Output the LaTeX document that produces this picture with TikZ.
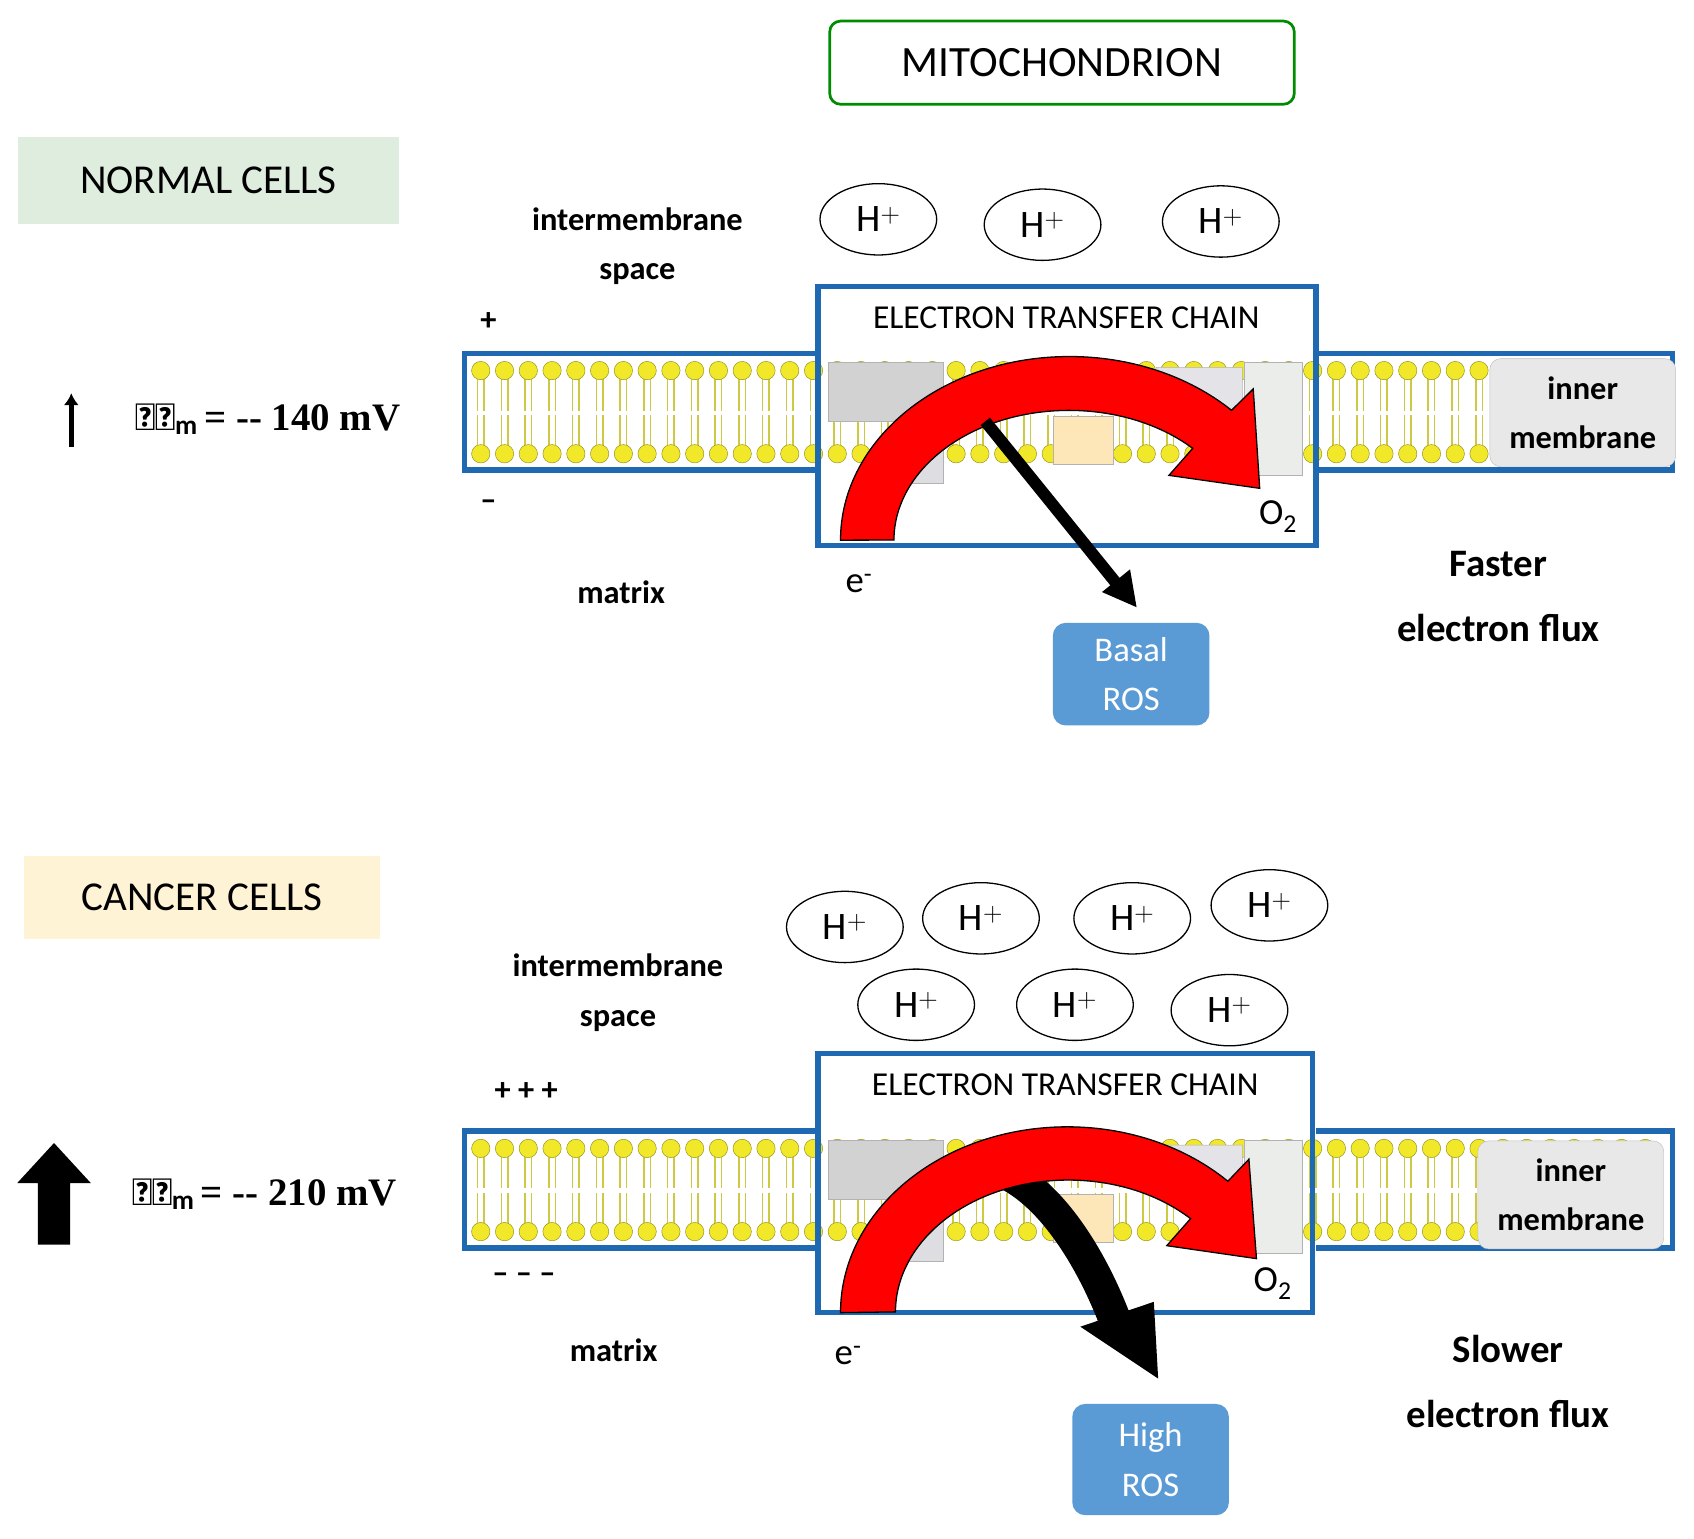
\documentclass[tikz,border=0pt]{standalone}
\usepackage{fontspec}
\usetikzlibrary{shapes.geometric,arrows.meta}
\setmainfont{Carlito}
\newfontfamily\tms{Liberation Serif}
\begin{document}
\begin{tikzpicture}[x=1pt,y=-1pt,
 fs/.style={font=\fontsize{#1}{#1}\selectfont},
 lab/.style={font=\fontsize{30}{46}\selectfont\bfseries,align=center},
 hp/.style={draw,ellipse,minimum width=108,minimum height=66,inner sep=0,fs=36,line width=1.2},
 ros/.style={fill=rosblue,rounded corners=12,text=white,align=center,minimum width=145,minimum height=95,font=\fontsize{32}{46}\selectfont},
 inm/.style={fill=gray!18,draw=gray!50,rounded corners=10,align=center,minimum width=172,minimum height=100,font=\fontsize{30}{46}\selectfont\bfseries},
 mb/.style={draw=mblue,line width=5},
]
\definecolor{mblue}{RGB}{31,105,178}
\definecolor{rosblue}{RGB}{91,155,213}
\definecolor{lipid}{RGB}{240,232,40}
\useasboundingbox (0,0) rectangle (1568,1424);
\fill[white] (0,0) rectangle (1568,1424);
\newcommand\mempanel[1]{%
\begin{scope}[yshift=-#1]
 \fill[white] (430,327) rectangle (1548,435);
 \foreach \x in {445,467,...,1540}{
   \draw[lipid!70!gray,line width=1.4] (\x-3,350)--(\x-3,380) (\x+3,350)--(\x+3,380)
     (\x-3,384)--(\x-3,413) (\x+3,384)--(\x+3,413);
   \fill[lipid,draw=lipid!60!black,line width=0.4] (\x,343) circle (8.5) (\x,420) circle (8.5);
 }
 \draw[mb] (757,327)--(430,327)--(430,435)--(757,435);
 \draw[mb] (1218,327)--(1548,327)--(1548,435)--(1218,435);
 \fill[white] (757,265) rectangle (1218,333);
 \fill[white] (757,440) rectangle (1218,505);
 \fill[gray!35,draw=gray!60] (767,335) rectangle (873,390);
 \fill[blue!8!gray!25,draw=gray!60] (830,390) rectangle (873,447);
 \fill[yellow!30!orange!25,draw=gray!60] (975,385) rectangle (1030,430);
 \fill[blue!10!gray!20,draw=gray!60] (1070,340) -- (1150,340) -- (1150,380) -- (1100,380) -- cycle;
 \fill[green!8!gray!15,draw=gray!60] (1152,335) rectangle (1205,440);
\end{scope}}
% ---- top
\node[draw=green!55!black,line width=2.5,rounded corners=10,minimum width=430,minimum height=77,fs=40] (mito) at (983,58) {MITOCHONDRION};
\node[fill=green!30!gray!20,minimum width=352,minimum height=80,fs=38] (nc) at (193,167) {NORMAL CELLS};
\node[fill=yellow!45!orange!15,minimum width=330,minimum height=77,fs=38] (cc) at (187,831) {CANCER CELLS};
% normal panel
\mempanel{0}
\node[hp] (h1) at (813,203) {H$^+$};
\node[hp] (h2) at (965,208) {H$^+$};
\node[hp] (h3) at (1130,205) {H$^+$};
\node[lab] (ims1) at (590,228) {intermembrane\\space};
\node[lab] (pl1) at (452,298) {+};
\node[lab] (mi1) at (452,468) {--};
\node[lab] (mx1) at (575,548) {matrix};
\node[draw=mblue,line width=5,minimum width=461,minimum height=240,inner sep=0] (etc1) at (987.5,385) {};
\node[fs=31,anchor=north] (etct1) at (987,280) {ELECTRON TRANSFER CHAIN};
\node[inm] (inm1) at (1465,382) {inner\\membrane};
\fill[red,draw=black,line width=1.2] (778,500) arc[start angle=180,end angle=315,x radius=212,y radius=170]
  -- (1160,360) -- (1166,452) -- (1082,440) -- (1104,415)
  arc[start angle=315,end angle=180,x radius=162,y radius=120] -- cycle;
\node[ros] (ros1) at (1047,624) {Basal\\ROS};
\coordinate (b1) at (912,390);
\draw[line width=11] (b1) -- (1035,542);
\fill (1020,548) -- (1052,562) -- (1046,527) -- cycle;
\node[fs=34] (e1) at (795,540) {e\textsuperscript{-}};
\node[fs=34] (o1) at (1183,478) {O\textsubscript{2}};
\node[font=\fontsize{36}{60}\selectfont\bfseries,align=center] (f1) at (1387,552) {Faster\\electron flux};
\node[font=\fontsize{36}{36}\selectfont\tms\bfseries] (dp1) at (248,388) {$\mathbf{\Delta\Psi_m}$\,= -- 140 mV};
\draw[line width=5,-{Latex[length=11,width=14]}] (66,414) -- (66,364);
% cancer panel
\mempanel{720}
\node[hp] (c1) at (782,858) {H$^+$};
\node[hp] (c2) at (908,850) {H$^+$};
\node[hp] (c3) at (1048,850) {H$^+$};
\node[hp] (c4) at (1175,838) {H$^+$};
\node[hp] (c5) at (848,930) {H$^+$};
\node[hp] (c6) at (995,930) {H$^+$};
\node[hp] (c7) at (1138,935) {H$^+$};
\node[lab] (ims2) at (572,919) {intermembrane\\space};
\node[lab] (pl2) at (487,1010) {+ + +};
\node[lab] (mi2) at (485,1183) {-- -- --};
\node[lab] (mx2) at (568,1250) {matrix};
\node[draw=mblue,line width=5,minimum width=458,minimum height=240,inner sep=0] (etc2) at (986,1095) {};
\node[fs=31,anchor=north] (etct2) at (986,990) {ELECTRON TRANSFER CHAIN};
\node[inm] (inm2) at (1454,1106) {inner\\membrane};
\coordinate (b2) at (900,1078);
\draw[line width=30] (b2) .. controls (960,1080) and (1010,1160) .. (1035,1230);
\fill (1000,1228) -- (1072,1276) -- (1068,1205) -- cycle;
\fill[red,draw=black,line width=1.2] (778,1215) arc[start angle=180,end angle=315,x radius=210,y radius=172]
  -- (1156,1073) -- (1163,1165) -- (1080,1153) -- (1102,1128)
  arc[start angle=315,end angle=180,x radius=160,y radius=122] -- cycle;
\node[ros,minimum width=145,minimum height=103] (ros2) at (1065,1351) {High\\ROS};
\node[fs=34] (e2) at (785,1255) {e\textsuperscript{-}};
\node[fs=34] (o2) at (1178,1188) {O\textsubscript{2}};
\node[font=\fontsize{36}{60}\selectfont\bfseries,align=center] (f2) at (1396,1279) {Slower\\electron flux};
\node[font=\fontsize{36}{36}\selectfont\tms\bfseries] (dp2) at (245,1105) {$\mathbf{\Delta\Psi_m}$\,= -- 210 mV};
\fill (35,1152) -- (65,1152) -- (65,1095) -- (84,1095) -- (50,1058) -- (16,1095) -- (35,1095) -- cycle;
\end{tikzpicture}
\end{document}
